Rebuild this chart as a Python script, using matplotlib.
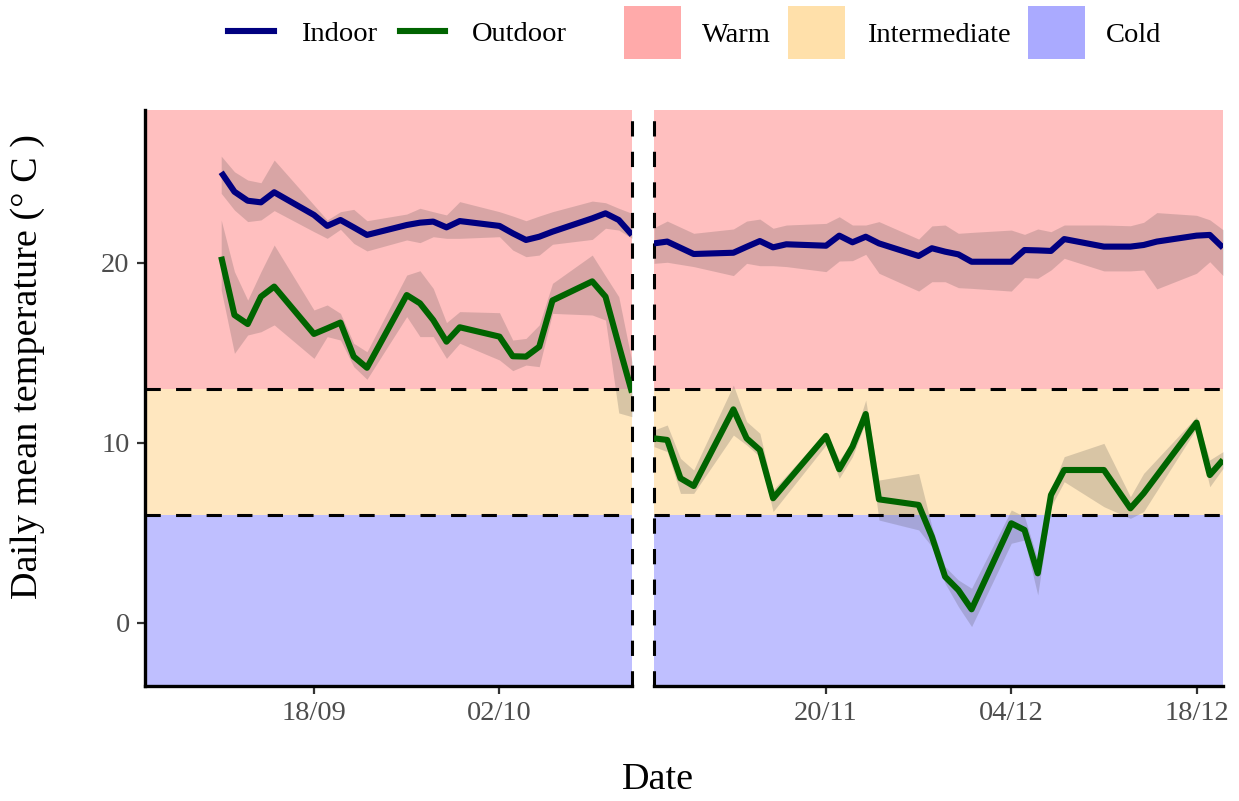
import matplotlib
matplotlib.use("Agg")
import matplotlib.pyplot as plt
import matplotlib.dates as mdates
from matplotlib.lines import Line2D
from matplotlib.patches import Patch
import pandas as pd

plt.rcParams['font.family'] = ['Liberation Serif', 'DejaVu Serif']

YEAR = "2020"

# --- autumn period (left panel) ---
autumn_dates = ["09-11", "09-12", "09-13", "09-14", "09-15", "09-18", "09-19", "09-20",
                "09-21", "09-22", "09-25", "09-26", "09-27", "09-28", "09-29", "10-02",
                "10-03", "10-04", "10-05", "10-06", "10-09", "10-10", "10-11", "10-12"]
autumn_indoor = [25.04, 23.96, 23.46, 23.37, 23.93, 22.67, 22.06, 22.39, 21.98, 21.56, 22.11, 22.24,
                 22.30, 21.98, 22.33, 22.06, 21.65, 21.28, 21.46, 21.74, 22.48, 22.76, 22.39, 21.56]
autumn_indoor_hi = [25.94, 25.07, 24.61, 24.46, 25.72, 23.22, 22.39, 22.85, 22.98, 22.35, 22.72, 23.04,
                    22.85, 22.67, 23.41, 22.85, 22.61, 22.35, 22.61, 22.85, 23.44, 23.35, 23.04, 22.76]
autumn_indoor_lo = [23.87, 22.94, 22.30, 22.39, 22.91, 21.74, 21.37, 21.87, 21.09, 20.67, 21.28, 21.13,
                    21.46, 21.37, 21.37, 21.46, 20.72, 20.35, 20.44, 21.04, 21.31, 21.93, 21.83, 21.37]
autumn_outdoor = [20.35, 17.11, 16.61, 18.13, 18.69, 16.06, 16.37, 16.69, 14.80, 14.18, 18.22, 17.76,
                  16.83, 15.63, 16.43, 15.91, 14.82, 14.80, 15.35, 17.92, 18.98, 18.13, 15.44, 12.80]
autumn_outdoor_hi = [22.39, 19.52, 17.94, 19.52, 21.00, 17.39, 17.67, 17.20, 15.54, 15.07, 19.33, 19.57,
                     18.59, 16.69, 17.30, 17.24, 15.72, 15.81, 16.56, 18.87, 20.44, 19.28, 18.13, 14.50]
autumn_outdoor_lo = [18.50, 14.98, 16.00, 16.18, 16.56, 14.70, 15.91, 15.72, 14.24, 13.54, 17.02, 15.91,
                     15.91, 14.70, 15.54, 14.61, 14.02, 14.33, 14.24, 17.20, 17.11, 16.83, 11.67, 11.46]

# --- winter period (right panel) ---
winter_in_dates = ["11-07", "11-08", "11-10", "11-13", "11-14", "11-15", "11-16", "11-17", "11-20",
                   "11-21", "11-22", "11-23", "11-24", "11-27", "11-28", "11-29", "11-30", "12-01",
                   "12-04", "12-05", "12-06", "12-07", "12-08", "12-11", "12-13", "12-14", "12-15",
                   "12-18", "12-19", "12-20"]
winter_indoor = [21.09, 21.19, 20.50, 20.57, 20.90, 21.22, 20.87, 21.04, 20.96, 21.52, 21.15, 21.46,
                 21.09, 20.39, 20.82, 20.63, 20.48, 20.07, 20.07, 20.72, 20.70, 20.67, 21.33, 20.91,
                 20.91, 21.00, 21.19, 21.52, 21.56, 20.85]
winter_indoor_hi = [21.96, 22.33, 21.65, 21.89, 22.33, 22.44, 21.93, 22.11, 22.20, 22.57, 22.11, 22.11,
                    22.30, 21.33, 22.06, 22.11, 21.65, 21.70, 21.83, 21.59, 21.89, 21.74, 22.11, 22.11,
                    22.07, 22.26, 22.80, 22.65, 22.40, 21.85]
winter_indoor_lo = [19.98, 20.04, 19.80, 19.30, 19.98, 19.85, 19.85, 19.80, 19.52, 20.11, 20.13, 20.48,
                    19.43, 18.44, 18.96, 18.96, 18.63, 18.59, 18.44, 19.19, 19.15, 19.61, 20.26, 19.56,
                    19.56, 19.61, 18.56, 19.43, 20.07, 19.30]

winter_out_dates = ["11-07", "11-08", "11-09", "11-10", "11-13", "11-14", "11-15", "11-16", "11-20",
                    "11-21", "11-22", "11-23", "11-24", "11-27", "11-28", "11-29", "11-30", "12-01",
                    "12-04", "12-05", "12-06", "12-07", "12-08", "12-11", "12-13", "12-14", "12-18",
                    "12-19", "12-20"]
winter_outdoor = [10.26, 10.17, 8.04, 7.61, 11.87, 10.26, 9.61, 6.93, 10.39, 8.54, 9.80, 11.61, 6.87,
                  6.56, 4.80, 2.57, 1.83, 0.76, 5.54, 5.17, 2.76, 7.11, 8.50, 8.50, 6.37, 7.20, 11.13,
                  8.22, 9.06]
winter_outdoor_hi = [10.72, 11.00, 9.15, 8.50, 13.22, 11.19, 10.54, 7.39, 10.63, 9.06, 10.07, 12.39, 7.94,
                     8.31, 5.35, 3.13, 2.39, 1.93, 6.28, 5.91, 3.50, 7.39, 9.24, 9.98, 7.02, 8.31, 11.46,
                     9.06, 9.52]
winter_outdoor_lo = [9.80, 9.52, 7.20, 7.20, 10.44, 9.89, 9.24, 6.19, 9.89, 8.04, 9.24, 11.19, 5.72,
                     5.17, 4.24, 2.20, 0.91, -0.20, 4.43, 4.61, 1.56, 6.46, 7.85, 6.46, 5.81, 6.19, 10.81,
                     7.57, 8.59]

# comfort bands
band_names = ["Warm", "Intermediate", "Cold"]
band_colors = ["#FFAAAA", "#FFE0AA", "#AAAAFF"]
band_limits = [(13, 40), (6, 13), (-10, 6)]

autumn_ticks = ["09-18", "10-02"]
winter_ticks = ["11-20", "12-04", "12-18"]

INDOOR_COLOR = "#000080"
OUTDOOR_COLOR = "#006400"
GREY_TXT = "#4D4D4D"
LINE_W = 4.4


def to_dates(days):
    return pd.to_datetime([f"{YEAR}-{d}" for d in days])


def draw_panel(ax, series):
    for (lo, hi), col in zip(band_limits, band_colors):
        ax.axhspan(lo, hi, color=col, alpha=0.75, lw=0, zorder=0)
    for dates, mean, hi, lo, col in series:
        ax.fill_between(dates, lo, hi, color="#404040", alpha=0.2, lw=0, zorder=1)
    for y in (13, 6):
        ax.axhline(y, color="black", lw=2.2, ls=(0, (5, 5)), zorder=2)
    for dates, mean, hi, lo, col in series:
        ax.plot(dates, mean, color=col, lw=LINE_W, zorder=3,
                solid_joinstyle="round", solid_capstyle="butt")
    ax.set_ylim(-3.5, 28.5)
    for side in ("top", "right"):
        ax.spines[side].set_visible(False)
    ax.spines["bottom"].set_linewidth(2.4)
    ax.spines["left"].set_linewidth(2.4)
    ax.xaxis.set_major_formatter(mdates.DateFormatter("%d/%m"))
    ax.tick_params(axis="both", length=6, width=1.6, color="#333333",
                   labelsize=20.5, labelcolor=GREY_TXT, pad=5)


fig = plt.figure(figsize=(12.39, 8.01), dpi=100)
ax1 = fig.add_axes([145 / 1239, 1 - 686 / 801, 487 / 1239, 576 / 801])
ax2 = fig.add_axes([654 / 1239, 1 - 686 / 801, 569 / 1239, 576 / 801])

a_dates = to_dates(autumn_dates)
draw_panel(ax1, [
    (a_dates, autumn_indoor, autumn_indoor_hi, autumn_indoor_lo, INDOOR_COLOR),
    (a_dates, autumn_outdoor, autumn_outdoor_hi, autumn_outdoor_lo, OUTDOOR_COLOR),
])
draw_panel(ax2, [
    (to_dates(winter_in_dates), winter_indoor, winter_indoor_hi, winter_indoor_lo, INDOOR_COLOR),
    (to_dates(winter_out_dates), winter_outdoor, winter_outdoor_hi, winter_outdoor_lo, OUTDOOR_COLOR),
])

a_end = a_dates[-1]
ax1.set_xlim(a_end - pd.Timedelta(days=36.75), a_end)
ax1.set_xticks(to_dates(autumn_ticks))
ax1.set_yticks([0, 10, 20])
ax1.axvline(a_end, color="black", lw=2.2, ls=(0, (5, 5)), zorder=2, clip_on=False)

w_start = to_dates(winter_out_dates)[0]
w_end = to_dates(winter_out_dates)[-1]
ax2.set_xlim(w_start, w_end)
ax2.set_xticks(to_dates(winter_ticks))
ax2.set_yticks([])
ax2.spines["left"].set_visible(False)
ax2.axvline(w_start, color="black", lw=2.2, ls=(0, (5, 5)), zorder=2, clip_on=False)

fig.text(28 / 1239, 1 - 367 / 801, "Daily mean temperature (° C )", rotation=90,
         ha="center", va="center", fontsize=27.5)
fig.text(658 / 1239, 1 - 780 / 801, "Date", ha="center", va="center", fontsize=27.5)

line_handles = [Line2D([], [], color=INDOOR_COLOR, lw=LINE_W),
                Line2D([], [], color=OUTDOOR_COLOR, lw=LINE_W)]
fig.legend(line_handles, ["Indoor", "Outdoor"], loc="center", bbox_to_anchor=(0.321, 0.957),
           ncol=2, frameon=False, fontsize=20.5, handlelength=1.6, handletextpad=0.95,
           columnspacing=0.8)
band_handles = [Patch(facecolor=c, edgecolor="none") for c in band_colors]
fig.legend(band_handles, band_names, loc="center", bbox_to_anchor=(0.7205, 0.959),
           ncol=3, frameon=False, fontsize=20.5, handlelength=2.0, handleheight=2.5,
           handletextpad=0.75, columnspacing=0.62)

fig.savefig("out.png", dpi=100)
